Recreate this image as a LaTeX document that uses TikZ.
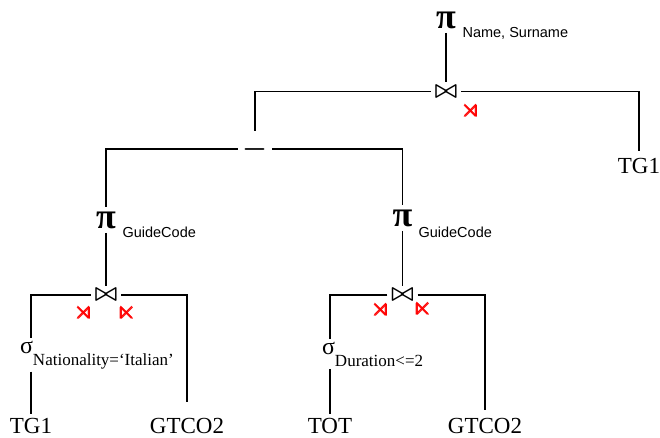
\RequirePackage{fix-cm}
\documentclass[tikz,border=0pt]{standalone}
\usepackage{amsmath,amssymb}
\usepackage{fontspec}
\setmainfont{Liberation Serif}
\setsansfont{Liberation Sans}
\usepackage{tikz}
\newcommand{\selcond}[1]{\raisebox{-12pt}{\fontsize{17}{17}\selectfont #1}}

\begin{document}
\begin{tikzpicture}[x=1pt,y=-1pt,line width=1.1pt,
  proj/.style={font=\bfseries\fontsize{36}{36}\selectfont,inner sep=4pt,anchor=base},
  attr/.style={font=\sffamily\fontsize{14.5}{15}\selectfont,inner sep=0pt,anchor=base west},
  joinop/.style={font=\boldmath\fontsize{24}{24}\selectfont,inner sep=3pt},
  semi/.style={red,font=\fontsize{25}{25}\selectfont,inner sep=0pt},
  diff/.style={font=\boldmath\fontsize{28}{28}\selectfont,inner xsep=4pt,inner ysep=7pt},
  sel/.style={font=\fontsize{24}{24}\selectfont,inner sep=2.5pt,anchor=base west},
  rel/.style={font=\fontsize{23}{23}\selectfont,inner sep=3pt,anchor=base}]
\useasboundingbox (0,0) rectangle (660,437);
% top
\node[proj] (pi1) at (446,28) {π};
\node[attr] (att1) at (462,37.5) {Name, Surname};
\node[joinop] (j1) at (446,91.5) {$\bowtie$};
\node[semi] (s1) at (471,111) {$\pmb{\rtimes}$};
\node[diff] (minus) at (255,149) {$-$};
\node[rel] (tg1a) at (639,173) {TG1};
% left branch
\node[proj] (pi2) at (106,228) {π};
\node[attr] (att2) at (122,237.5) {GuideCode};
\node[joinop] (j2) at (106,295) {$\bowtie$};
\node[semi] (s2) at (84,313) {$\pmb{\rtimes}$};
\node[semi] (s3) at (127,313) {$\pmb{\ltimes}$};
\node[sel] (sel1) at (17,353) {σ\selcond{Nationality=‘Italian’}};
\node[rel] (tg1b) at (31,433) {TG1};
\node[rel] (gtco2a) at (187,433) {GTCO2};
% right branch
\node[proj] (pi3) at (402.5,226) {π};
\node[attr] (att3) at (418,237) {GuideCode};
\node[joinop] (j3) at (402.5,295) {$\bowtie$};
\node[semi] (s4) at (381,310) {$\pmb{\rtimes}$};
\node[semi] (s5) at (423,309) {$\pmb{\ltimes}$};
\node[sel] (sel2) at (319,354) {σ\selcond{Duration<=2}};
\node[rel] (tot) at (330,433) {TOT};
\node[rel] (gtco2b) at (485,433) {GTCO2};

\draw (pi1) -- (j1);
\draw (j1.west) -| (minus.north);
\draw[shorten >=3pt] (j1.east) -| (tg1a.north);
\draw (minus.west) -| (pi2.north);
\draw (minus.east) -| (pi3.north);
\draw (pi2) -- (j2);
\draw (j2.west) -| (sel1.north -| tg1b.north);
\draw (sel1.south -| tg1b.north) -- (tg1b.north);
\draw[shorten >=12pt] (j2.east) -| (gtco2a.north);
\draw (pi3) -- (j3);
\draw (j3.west) -| (sel2.north -| tot.north);
\draw (sel2.south -| tot.north) -- (tot.north);
\draw[shorten >=4pt] (j3.east) -| (gtco2b.north);
\end{tikzpicture}
\end{document}
